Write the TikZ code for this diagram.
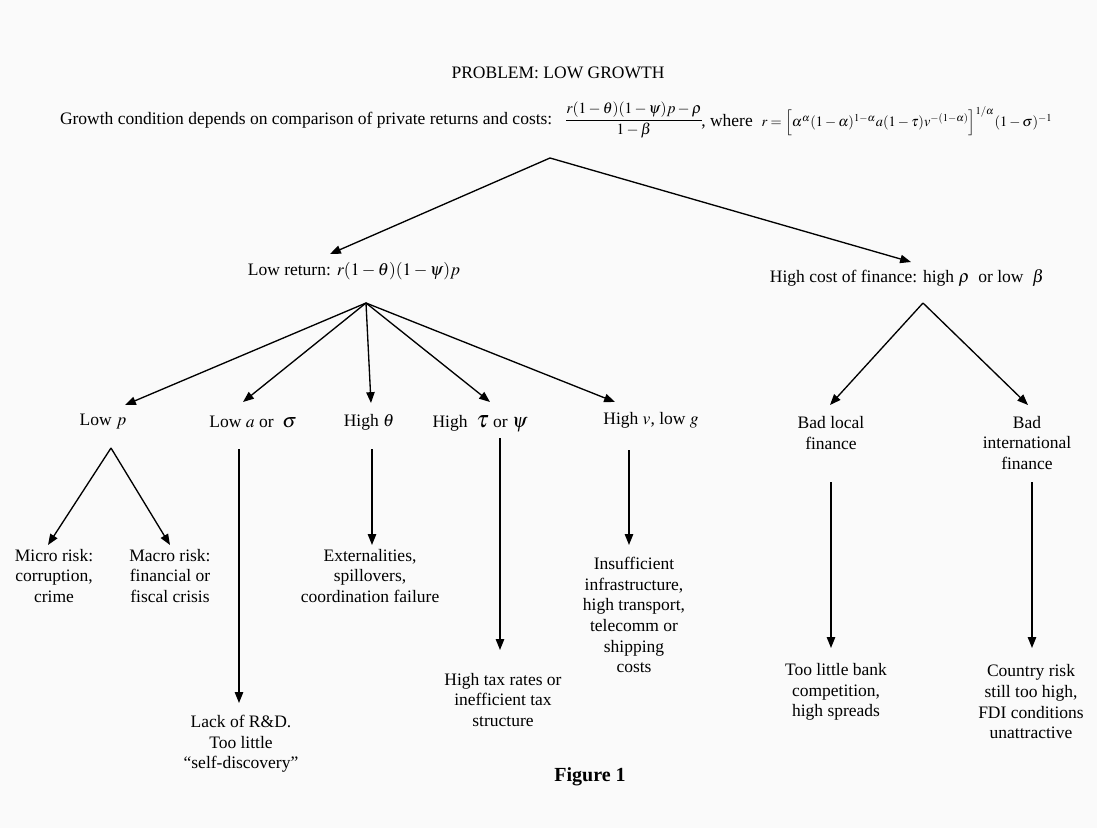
\documentclass[tikz,border=0pt]{standalone}
\usepackage{mathptmx}
\usepackage{fontspec}
\setmainfont{Liberation Serif}
\usetikzlibrary{arrows.meta}
\newcommand{\dgfont}{\fontsize{10.5}{12.4}\selectfont}
\newcommand{\eqfont}{\fontsize{8.6}{10}\selectfont}
\definecolor{paper}{HTML}{FAFAFA}

\begin{document}
\begin{tikzpicture}[x=0.6pt, y=-0.6pt,
    lbl/.style={font=\dgfont, align=center, inner sep=1pt},
    arr/.style={-{Triangle[length=6.5pt,width=5pt]}, line width=0.8pt},
    bare/.style={line width=0.8pt}]
  \fill[paper] (0,0) rectangle (1097,828);
  \useasboundingbox (0,0) rectangle (1097,828);

  % problem and growth condition
  \node[lbl] (problem) at (558,73) {PROBLEM: LOW GROWTH};
  \node[lbl, anchor=west] (cond) at (58,120) {Growth condition depends on comparison of private returns and costs:};
  \node[lbl, font=\fontsize{9.3}{11}\selectfont] (frac) at (634,120) {$\displaystyle\frac{r(1-\theta)(1-\psi)p-\rho}{1-\beta}$};
  \node[lbl, anchor=west, inner sep=0pt] (rdef) at (701,121) {, where\ \ {\eqfont$r=\Bigl[\alpha^{\alpha}(1-\alpha)^{1-\alpha}a(1-\tau)v^{-(1-\alpha)}\Bigr]^{1/\alpha}(1-\sigma)^{-1}$}};

  % first split
  \coordinate (top) at (550,158);
  \coordinate (lowret-in) at (330,254);
  \coordinate (hicost-in) at (911,262);
  \node[lbl] (lowret) at (354,271) {Low return: $r(1-\theta)(1-\psi)p$};
  \node[lbl] (hicost) at (907,278) {High cost of finance: high $\rho$\ \ or low\ \ $\beta$};
  \draw[arr] (top) -- (lowret-in);
  \draw[arr] (top) -- (hicost-in);

  % low return branch
  \coordinate (ret) at (366,303);
  \coordinate (lowp-in) at (125,405);
  \coordinate (lowa-in) at (243,402);
  \coordinate (highth-in) at (371,403);
  \coordinate (hightau-in) at (490,402);
  \coordinate (highv-in) at (615,402);
  \draw[arr] (ret) -- (lowp-in);
  \draw[arr] (ret) -- (lowa-in);
  \draw[arr] (ret) -- (highth-in);
  \draw[arr] (ret) -- (hightau-in);
  \draw[arr] (ret) -- (highv-in);

  \node[lbl] (lowp) at (103,422) {Low $p$};
  \node[lbl] (lowa) at (253,422) {Low $a$ or\ \ {\large$\sigma$}};
  \node[lbl] (highth) at (369,422) {High $\theta$};
  \node[lbl] (hightau) at (480,424) {High\ \ {\Large$\tau$}\ or {\large$\psi$}};
  \node[lbl] (highv) at (651,420) {High $v$, low $g$};

  % high cost branch
  \coordinate (cost) at (923,303);
  \coordinate (badloc-in) at (830,405);
  \coordinate (badint-in) at (1028,405);
  \draw[arr] (cost) -- (badloc-in);
  \draw[arr] (cost) -- (badint-in);
  \node[lbl] (badloc) at (831,433) {Bad local\\finance};
  \node[lbl] (badint) at (1027,443) {Bad\\international\\finance};

  % causes
  \coordinate (lowp-out) at (111,448);
  \coordinate (micro-in) at (48,545);
  \coordinate (macro-in) at (170,545);
  \draw[arr] (lowp-out) -- (micro-in);
  \draw[arr] (lowp-out) -- (macro-in);
  \node[lbl] (micro) at (54,576) {Micro risk:\\corruption,\\crime};
  \node[lbl] (macro) at (170,576) {Macro risk:\\financial or\\fiscal crisis};

  \coordinate (lowa-out) at (239,449);
  \coordinate (lackrd-in) at (239,703);
  \draw[arr] (lowa-out) -- (lackrd-in);
  \node[lbl] (lackrd) at (241,744) {Lack of R\&D.\\Too little\\``self-discovery''};

  \coordinate (highth-out) at (372,449);
  \coordinate (extern-in) at (372,545);
  \draw[arr] (highth-out) -- (extern-in);
  \node[lbl] (extern) at (370,576) {Externalities,\\spillovers,\\coordination failure};

  \coordinate (hightau-out) at (500,438);
  \coordinate (hightax-in) at (500,650);
  \draw[arr] (hightau-out) -- (hightax-in);
  \node[lbl] (hightax) at (503,700) {High tax rates or\\inefficient tax\\structure};

  \coordinate (highv-out) at (629,450);
  \coordinate (infra-in) at (629,545);
  \draw[arr] (highv-out) -- (infra-in);
  \node[lbl] (infra) at (634,615) {Insufficient\\infrastructure,\\high transport,\\telecomm or\\shipping\\costs};

  \coordinate (badloc-out) at (831,482);
  \coordinate (bank-in) at (831,648);
  \draw[arr] (badloc-out) -- (bank-in);
  \node[lbl] (bank) at (836,692) {Too little bank\\competition,\\high spreads};

  \coordinate (badint-out) at (1032,482);
  \coordinate (country-in) at (1032,648);
  \draw[arr] (badint-out) -- (country-in);
  \node[lbl] (country) at (1031,702) {Country risk\\still too high,\\FDI conditions\\unattractive};

  \node[font=\fontsize{12}{14}\selectfont\bfseries] (fig) at (590,777) {Figure 1};
\end{tikzpicture}
\end{document}
